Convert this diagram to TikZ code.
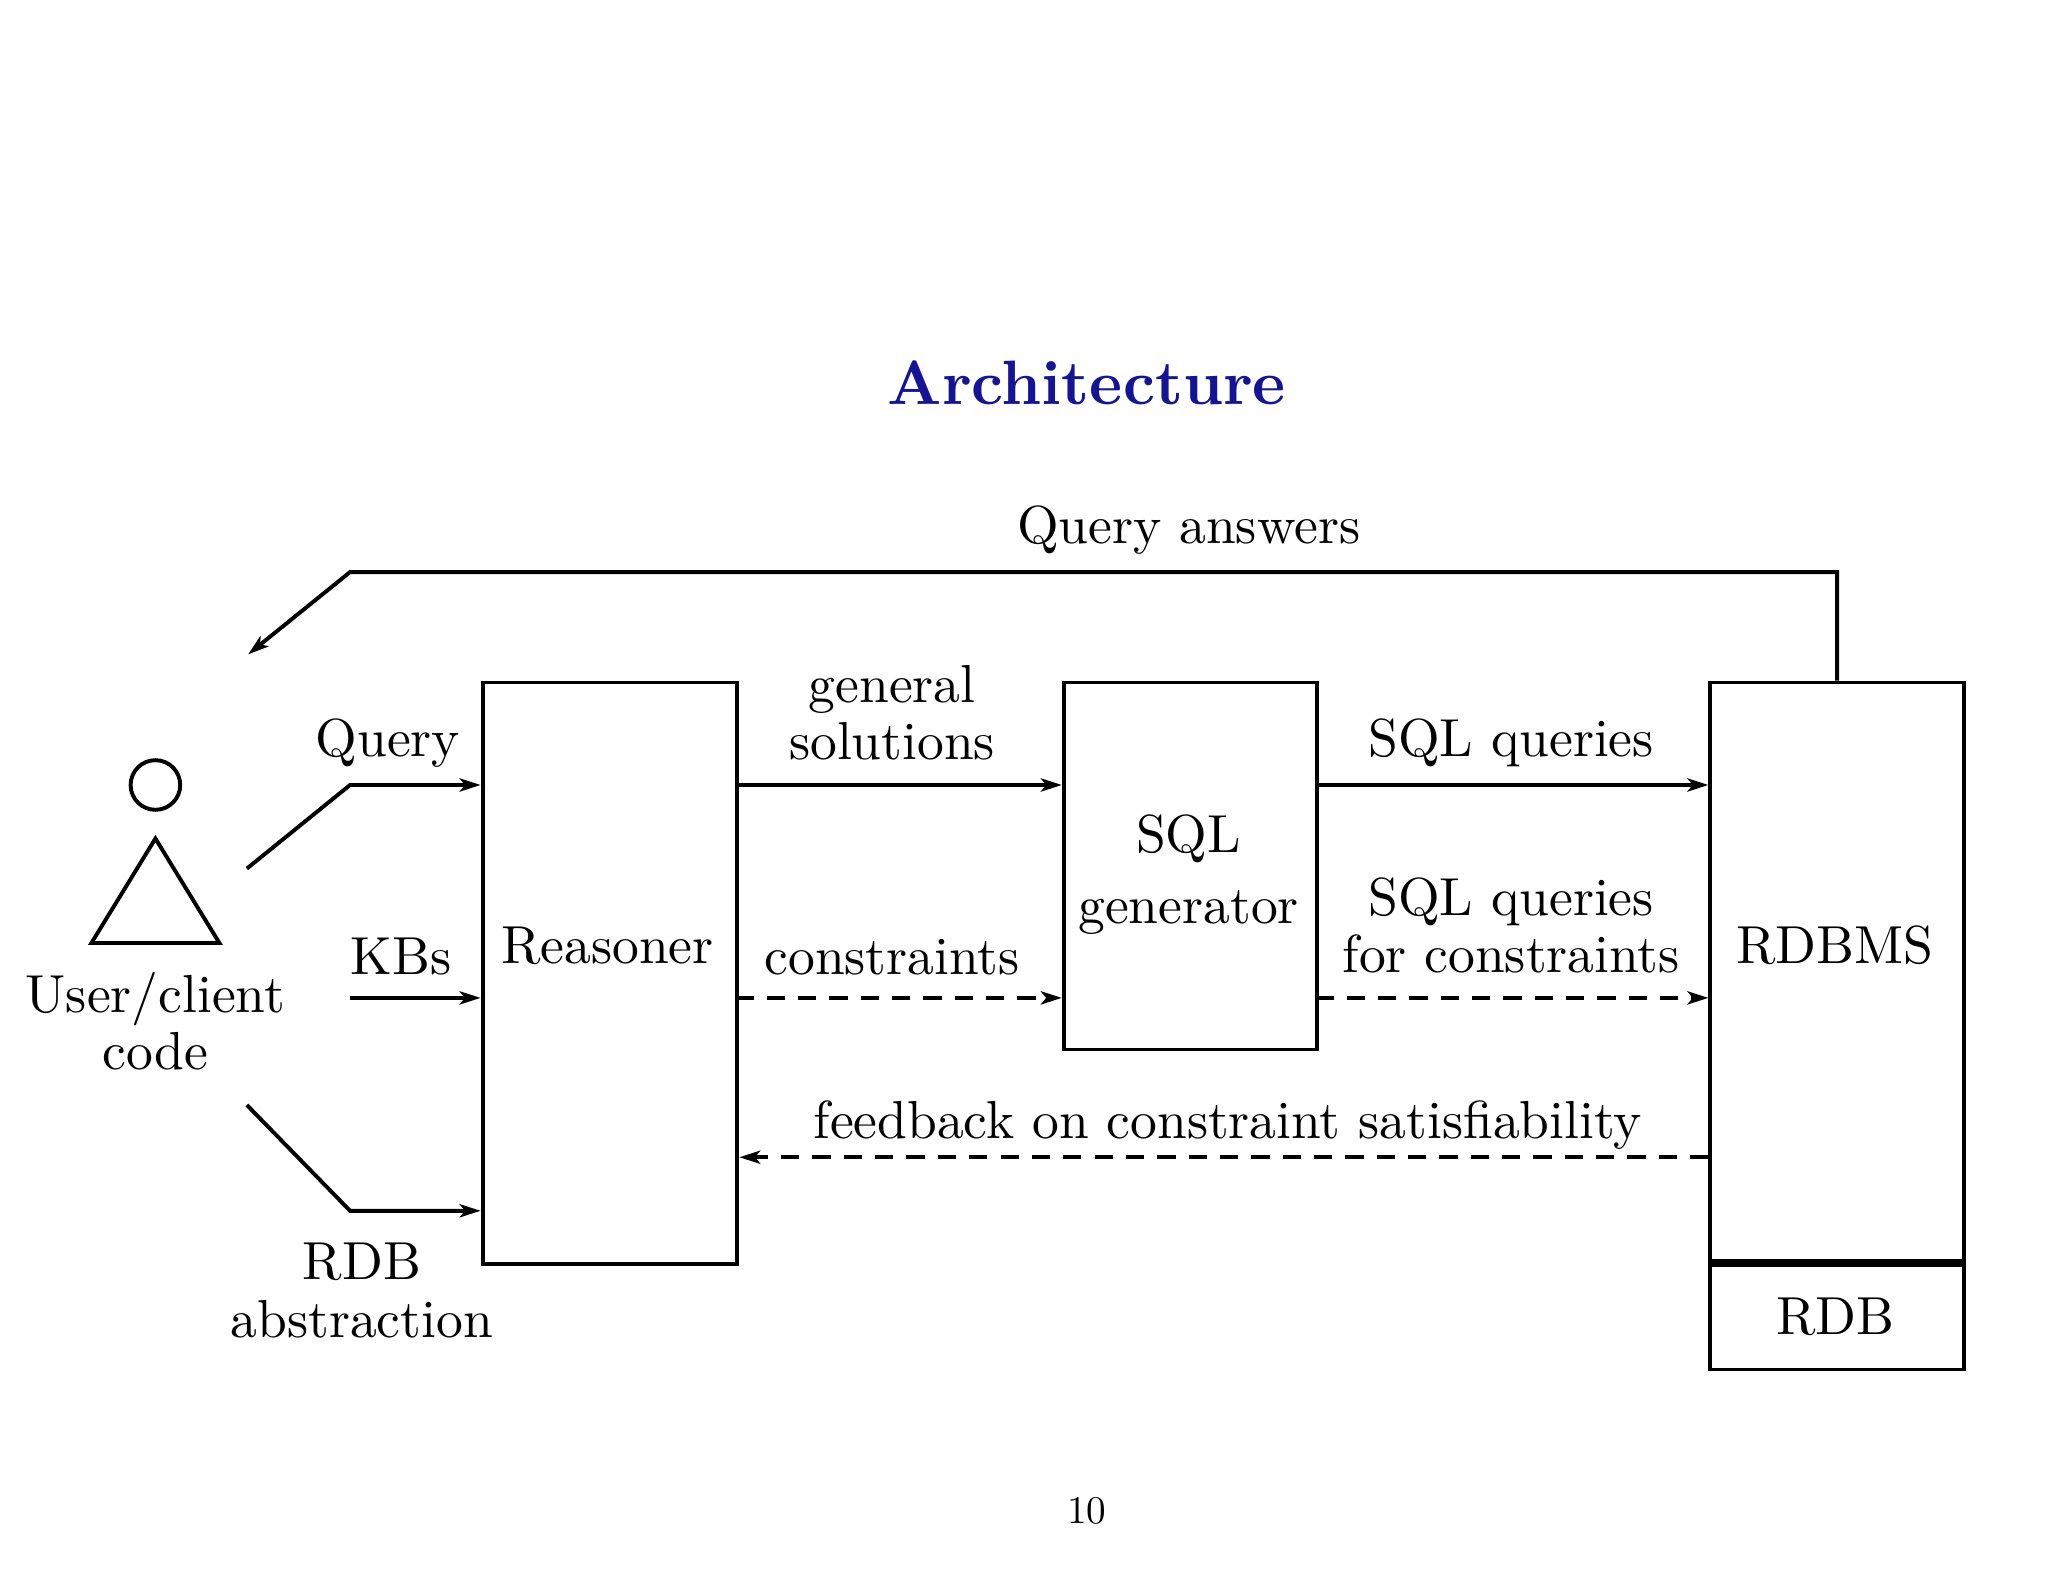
\documentclass[tikz,border=0pt]{standalone}
\usetikzlibrary{arrows.meta}
\usepackage{graphicx}
\definecolor{titleblue}{RGB}{20,20,150}
\newcommand\Tx[2][4.1]{\scalebox{#1}{\begin{tabular}{@{}c@{}}#2\end{tabular}}}
\begin{document}
\begin{tikzpicture}[x=1pt,y=-1pt,
  every node/.style={inner sep=0pt, align=center},
  box/.style={draw, line width=3pt, rectangle, anchor=north west},
  ln/.style={line width=3pt},
  arr/.style={line width=3pt,-{Stealth[length=16pt,width=10pt,inset=4pt]}},
  dsh/.style={arr, dash pattern=on 14pt off 10pt}]
\useasboundingbox (0,0) rectangle (1568,1211);
\node[text=titleblue] (title) at (832,298) {\Tx[4.8]{\bfseries Architecture}};
\node (pg) at (832,1159) {\Tx[3]{10}};
% boxes
\node[box, minimum width=195pt, minimum height=445pt] (reas) at (368,521) {};
\node (reasT) at (465,728) {\Tx{Reasoner}};
\node[box, minimum width=194pt, minimum height=281pt] (sqlg) at (813,521) {};
\node (sqlgT) at (910,670) {\Tx{SQL\\[1.4pt]generator}};
\node[box, minimum width=194pt, minimum height=446pt] (rdbms) at (1308,521) {};
\node (rdbmsT) at (1405,728) {\Tx{RDBMS}};
\node[box, minimum width=194pt, minimum height=80pt] (rdb) at (1308,967) {};
\node (rdbT) at (1405,1012) {\Tx{RDB}};
\draw[line width=6pt] (rdb.north west) -- (rdb.north east);
% user
\node[draw, circle, line width=3pt, minimum size=38pt] (head) at (119,601) {};
\coordinate (t1) at (70,722); \coordinate (t2) at (168,722); \coordinate (t3) at (119,642);
\draw[ln] (t1) -- (t2) -- (t3) -- cycle;
\node (user) at (119,787) {\Tx{User/client\\[-1.3pt]code}};
% user inputs
\coordinate (q0) at (189,665); \coordinate (q1) at (268,601);
\draw[arr] (q0) -- (q1) -- (reas.west |- q1);
\node (qL) at (297,569) {\Tx{Query}};
\coordinate (k0) at (268,764);
\draw[arr] (k0) -- (reas.west |- k0);
\node (kL) at (307,736) {\Tx{KBs}};
\coordinate (r0) at (189,846); \coordinate (r1) at (268,927);
\draw[arr] (r0) -- (r1) -- (reas.west |- r1);
\node (rL) at (277,992) {\Tx{RDB\\[-1.3pt]abstraction}};
% middle
\coordinate (g0) at (563,601); \coordinate (g1) at (563,764);
\draw[arr] (g0) -- (sqlg.west |- g0);
\node (gL) at (683,550) {\Tx{general\\[-1.3pt]solutions}};
\draw[dsh] (g1) -- (sqlg.west |- g1);
\node (cL) at (683,736) {\Tx{constraints}};
\coordinate (s0) at (1007,601); \coordinate (s1) at (1007,764);
\draw[arr] (s0) -- (rdbms.west |- s0);
\node (sL) at (1157,569) {\Tx{SQL queries}};
\draw[dsh] (s1) -- (rdbms.west |- s1);
\node (scL) at (1157,713) {\Tx{SQL queries\\[-1.3pt]for constraints}};
\coordinate (f0) at (1308,886);
\draw[dsh] (f0) -- (reas.east |- f0);
\node (fL) at (940,862) {\Tx{feedback on constraint satisfiability}};
% query answers
\coordinate (a1) at (268,438); \coordinate (a2) at (190,501);
\draw[arr] (rdbms.north) -- (rdbms.north |- a1) -- (a1) -- (a2);
\node (aL) at (910,406) {\Tx{Query answers}};
\end{tikzpicture}
\end{document}
